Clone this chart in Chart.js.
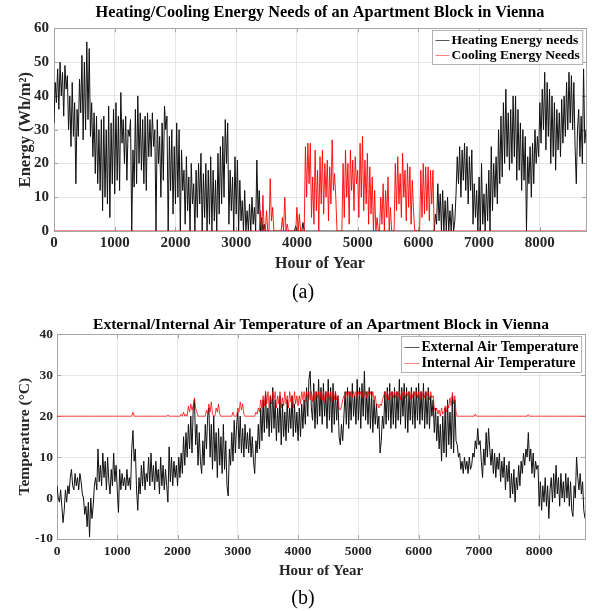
<!DOCTYPE html>
<html lang="en">
<head>
<meta charset="UTF-8">
<title>Heating/Cooling Energy Needs and Air Temperature - Vienna</title>
<script src="https://cdn.jsdelivr.net/npm/chart.js@4"></script>
<style>
  body { margin: 0; background: #fff; }
  .box { position: absolute; left: 0; width: 592px; }
  .tag { position: absolute; left: 0; width: 606px; text-align: center;
         font: 20px/24px "Liberation Serif", "Times New Roman", serif; color: #000; }
</style>
</head>
<body>
<div class="box" style="top:0;height:303px"><canvas id="chartA"></canvas></div>
<div class="tag" style="top:279px">(a)</div>
<div class="box" style="top:303px;height:308px"><canvas id="chartB"></canvas></div>
<div class="tag" style="top:585px">(b)</div>
<script>
// one sample every 20 hours, 0 .. 8760 (439 values)
const STEP = 20;
const X_TICKS = [0, 1000, 2000, 3000, 4000, 5000, 6000, 7000, 8000];

// (a) energy needs, Wh/m2
const heating = [
  32,44,38,48,36,50,40,47,34,49,42,46,30,40,25,44,28,38,14,36,
  28,45,35,52,27,50,30,56,33,54,28,38,22,35,17,34,14,30,12,33,
  6,34,10,30,8,37,4,32,14,36,11,38,15,34,12,41,26,33,20,34,
  15,30,28,33,0,24,13,36,14,40,20,35,18,33,14,34,12,35,22,33,
  22,35,25,30,0,33,20,28,10,32,15,37,30,34,0,28,12,30,5,25,
  8,32,10,30,0,24,12,18,2,22,6,16,0,20,8,14,0,18,4,20,
  8,23,0,17,4,20,0,18,2,22,0,18,3,15,0,23,5,25,8,28,
  10,33,20,32,2,18,6,16,0,22,5,21,0,15,3,9,0,12,0,6,
  0,8,0,10,2,7,0,21,5,12,0,4,0,2,0,0,0,0,0,0,
  0,0,0,0,0,0,0,0,0,0,0,0,0,0,0,0,0,0,0,1.5,
  0,0,0,0,0,2.5,0,0,0,0,0,0,0,0,0,0,0,0,0,0,
  0,0,0,0,0,0,0,0,0,0,0,0,0,0,0,0,0,0,0,0,
  0,0,0,0,0,0,0,0,0,0,0,0,0,0,0,0,0,0,0,0,
  0,0,0,0,0,0,0,0,0,0,0,0,0,0,0,0,0,0,0,0,
  0,0,0,0,0,0,0,0,0,0,0,0,0,0,0,0,0,0,0,0,
  0,0,0,0,0,0,0,0,0,0,0,0,0,0,5,2,14,3,11,0,
  12,0,9,0,10,0,6,0,8,0,3,11,22,14,25,10,24,15,26,12,
  25,8,22,12,24,2,14,4,12,0,16,0,20,2,11,0,14,3,18,0,
  25,6,20,10,22,8,30,14,34,16,38,20,42,22,35,18,36,20,40,22,
  40,15,36,18,32,12,30,15,28,0,22,14,25,10,26,14,30,20,28,22,
  38,26,42,30,47,24,44,28,42,20,40,22,38,18,36,24,35,22,39,26,
  40,28,44,30,47,32,46,30,44,25,14,30,36,22,34,20,48,26,30
];
const cooling = [
  0,0,0,0,0,0,0,0,0,0,0,0,0,0,0,0,0,0,0,0,
  0,0,0,0,0,0,0,0,0,0,0,0,0,0,0,0,0,0,0,0,
  0,0,0,0,0,0,0,0,0,0,0,0,0,0,0,0,0,0,0,0,
  0,0,0,0,0,0,0,0,0,0,0,0,0,0,0,0,0,0,0,0,
  0,0,0,0,0,0,0,0,0,0,0,0,0,0,0,0,0,0,0,0,
  0,0,0,0,0,0,0,0,0,0,0,0,0,0,0,0,0,0,0,0,
  0,0,0,0,0,0,0,0,0,0,0,0,0,0,0,0,0,0,0,0,
  0,0,0,0,0,0,0,0,0,0,0,0,0,0,0,0,0,0,0,0,
  0,0,0,0,0,0,0,0,0,0,6,0,10.6,0,0,6,0,0,15.5,3,
  7,0,0,0,0,0,0,0,4,0,10,0,2,0,0,0,0,0,0,0,
  7,0,5,0,0,0,0,25,10,26,14,26,4,16,2,24,6,18,0,22,
  8,24,5,20,10,21,3,19,8,27,12,17,10,0,0,0,0,0,20,4,
  24,10,20,2,24,12,21,6,22,14,18,4,26,10,28,6,21,8,23,2,
  19,5,16,0,12,0,4,0,0,10,2,14,0,12,4,16,0,7,0,0,
  0,20,6,22,8,17,4,23,10,18,3,20,7,19,2,15,6,0,0,0,
  0,0,18,4,20,5,19,6,19,3,18,8,18,0,0,0,0,0,0,0,
  0,0,0,0,0,0,0,0,0,0,0,0,0,0,0,0,0,0,0,0,
  0,0,0,0,0,0,0,0,0,0,0,0,0,0,0,0,0,0,0,0,
  0,0,0,0,0,0,0,0,0,0,0,0,0,0,0,0,0,0,0,0,
  0,0,0,0,0,0,0,0,0,0,0,0,0,0,0,0,0,0,0,0,
  0,0,0,0,0,0,0,0,0,0,0,0,0,0,0,0,0,0,0,0,
  0,0,0,0,0,0,0,0,0,0,0,0,0,0,0,0,0,0,0
];

// (b) air temperature, degC
const externalT = [
  3,0,-1,2,-2,-6,-3,2,-1,3,1,5,7,3,2,6,3,5,2,6,
  4,1,0,-4,-2,-7,-1,-9.5,0,-5,-2,3,5,2,12,4,8,3,11,5,
  9,2,10,4,1,7,3,11,4,8,2,-3.5,7,2,6,3,5,2,7,3,
  5,2,12,16.5,9,12,2,-3,5,1,8,3,9,2,6,4,10,3,11,4,
  8,2,9,4,7,1,10,3,8,2,7,3,-1,12.5,4,10,3,9,5,8,
  3,10,5,11,6,15,8,16,10,18,12,20,11,22,24,13,18,8,16,9,
  6,14,8,18,12,20,22,10,18,7,20,9,16,5,17,8,15,6,18,7,
  14,3,0.5,12,8,16,9,19,11,18,21,12,20,11,17,10,18,12,16,11,
  17,10,15,9,6,14,11,18,12,22,14,24,16,26,17,22,15,25,16,27,
  17,24,14,22,16,25,13,23,15,21,14,24,16,22,17,25,15,23,16,21,
  14,22,15,23,17,24,18,27,20,29,31,22,19,28,17,26,18,29,20,27,
  18,28,20,26,17,29,19,27,16,28,18,26,19,25,15,13,18,14,20,26,
  18,27,17,26,19,28,20,25,18,29,19,27,17,28,20,31,19,26,18,27,
  17,26,16,24,18,23,17,20,11,14,20,17,26,18,27,19,28,17,26,18,
  27,17,26,19,29,18,27,20,28,17,27,16,26,19,27,18,26,17,27,19,
  28,18,26,19,28,17,26,18,27,17,25,20,24,16,22,14,20,12,18,9,
  20,11,22,10,24,13,21,12,25,11,24,14,13,10,11,7,9,6,10,7,
  9,6,10,7,8,11,10,14,12,17,13,14,9,5,12,8,16,10,17,12,
  8,12,6,11,5,10,7,11,4,9,5,10,2,8,4,9,0,6,1,7,
  -1,5,2,8,3,9,6,11,8,12,10,16,9,12,6,11,5,9,7,8,
  -2,4,-3,3,-1,5,-2,3,-5,2,5,-1,6,0,8,1,5,-2,6,0,
  4,-1,6,0,5,-2,4,-3,-4.5,3,0,10,5,2,6,1,4,-3,-5
];
const internalT = [
  20,20,20,20,20,20,20,20,20,20,20,20,20,20,20,20,20,20,20,20,
  20,20,20,20,20,20,20,20,20,20,20,20,20,20,20,20,20,20,20,20,
  20,20,20,20,20,20,20,20,20,20,20,20,20,20,20,20,20,20,20,20,
  20,20,20,21,20,20,20,20,20,20,20,20,20,20,20,20,20,20,20,20,
  20,20,20,20,20,20,20,20,20,20,20,20,20.3,20,20,20,20,20,20,20,
  20,20,20,20.5,20,21,20,20.5,20,22.5,21,23,21.5,22.5,24.5,22,21,20,20,20,
  20,20,20,20,21.5,20.5,23,21,23.5,20.5,20,20,22,21,23,20.5,20,20,20,20,
  20,20,20,20,20,20,21,20,20,20,22,21,23.5,21.5,23,20.5,20,20,20,20,
  20,20,20,20,20,21,20.5,22,21,24,22,25,22.5,26,23,26,22,25,23,26,
  24,26,22,25,23,26,22,24.5,22.5,26,23,25,22,26,23.5,25,22,26,23,25,
  22.5,25,23,26,24,26,23.5,26,24.5,26,24,26,23.5,26,24,26,24.5,26,24,26,
  24,26,23.5,26,24.5,26,24,26,23.5,26,24,26,24,25,22,21.5,22.5,24,25,24.5,
  26,24.5,26,25,26,24.5,26,25,26,24.5,26,25,26,24.5,26,25,26,24.5,26,25,
  26,24.5,26,24,25,22.5,23,22,23,22.5,24,25,26,24.5,26,24,26,25,26,24.5,
  26,24.5,26,25,26,24,26,25,26,24.5,26,25,26,24,26,24.5,26,25,26,24.5,
  26,24,26,25,26,24.5,26,25,26,24,26,24.5,25,22,21,22,20.5,21.5,20,22,
  20.5,21,22.5,21,23,22,24.5,22.5,25.8,23,25,21,20,20,20,20,20,20,20,20,
  20,20,20,20,20,20,20,20.5,20,20,20,20,20,20,20,20,20,20,20,20,
  20,20,20,20,20,20,20,20,20,20,20,20,20,20,20,20,20,20,20,20,
  20,20,20,20,20,20,20,20,20,20,20,20.4,20,20,20,20,20,20,20,20,
  20,20,20,20,20,20,20,20,20,20,20,20,20,20,20,20,20,20,20,20,
  20,20,20,20,20,20,20,20,20,20,20,20,20,20,20,20,20,20,20
];

const SERIF = '"Liberation Serif", "Times New Roman", serif';

function pts(arr) {
  return arr.map((v, i) => ({ x: i * STEP, y: v }));
}

// box round the axes, small inward ticks (matlab style) and a legend inside the plot
const framePlugin = {
  id: 'frame',
  beforeDatasetsDraw(chart) {
    const { ctx, chartArea: a, scales } = chart;
    ctx.save();
    ctx.strokeStyle = '#a6a6a6';
    ctx.lineWidth = 1;
    ctx.strokeRect(Math.round(a.left) + 0.5, Math.round(a.top) + 0.5,
      Math.round(a.right - a.left), Math.round(a.bottom - a.top));
    ctx.beginPath();
    scales.x.ticks.forEach(t => {
      const px = Math.round(scales.x.getPixelForValue(t.value)) + 0.5;
      ctx.moveTo(px, a.top); ctx.lineTo(px, a.top + 4);
      ctx.moveTo(px, a.bottom); ctx.lineTo(px, a.bottom - 4);
    });
    scales.y.ticks.forEach(t => {
      const py = Math.round(scales.y.getPixelForValue(t.value)) + 0.5;
      ctx.moveTo(a.left, py); ctx.lineTo(a.left + 4, py);
      ctx.moveTo(a.right, py); ctx.lineTo(a.right - 4, py);
    });
    ctx.stroke();
    ctx.restore();
  },
  afterDraw(chart, args, opts) {
    const { ctx, chartArea: a } = chart;
    const sets = chart.data.datasets;
    ctx.save();
    ctx.font = 'bold ' + opts.size + 'px ' + SERIF;
    let tw = 0;
    sets.forEach(d => { tw = Math.max(tw, ctx.measureText(d.label).width); });
    const w = 3 + opts.line + 2 + tw + 3;
    const h = opts.rowH * sets.length + 4;
    const x0 = Math.round(a.right - 4 - w) + 0.5;
    const y0 = Math.round(a.top + 1.5) + 0.5;
    ctx.fillStyle = '#fff';
    ctx.fillRect(x0, y0, w, h);
    ctx.strokeStyle = '#b0b0b0';
    ctx.lineWidth = 1;
    ctx.strokeRect(x0, y0, w, h);
    sets.forEach((d, i) => {
      const cy = y0 + 2 + opts.rowH * (i + 0.5);
      ctx.strokeStyle = d.legendColor;
      ctx.beginPath();
      ctx.moveTo(x0 + 3, Math.round(cy) + 0.5);
      ctx.lineTo(x0 + 3 + opts.line, Math.round(cy) + 0.5);
      ctx.stroke();
      ctx.fillStyle = '#000';
      ctx.textBaseline = 'middle';
      ctx.fillText(d.label, x0 + 3 + opts.line + 2, cy + 0.5);
    });
    ctx.restore();
  }
};

function makeChart(id, c) {
  return new Chart(document.getElementById(id), {
    type: 'line',
    data: { datasets: c.datasets },
    plugins: [framePlugin],
    options: {
      responsive: true,
      maintainAspectRatio: false,
      animation: false,
      devicePixelRatio: 1,
      events: [],
      layout: { padding: { left: 0, right: c.padRight, top: 0, bottom: c.padBottom } },
      plugins: {
        legend: { display: false },
        tooltip: { enabled: false },
        title: {
          display: true, text: c.title, color: '#000', fullSize: false,
          font: { family: SERIF, size: c.titleSize, weight: 'bold' },
          padding: c.titlePad
        },
        frame: c.legend
      },
      scales: {
        x: {
          type: 'linear', min: 0, max: 8760,
          afterBuildTicks: s => { s.ticks = X_TICKS.map(v => ({ value: v })); },
          afterFit: s => { s.height = c.xHeight; },
          grid: { color: '#e6e6e6', drawTicks: false },
          border: { display: false },
          ticks: {
            autoSkip: false, maxRotation: 0, padding: c.xTickPad, color: '#262626',
            font: { family: SERIF, size: c.tickSize, weight: 'bold' },
            callback: v => String(v)
          },
          title: {
            display: true, text: 'Hour of Year', color: '#262626',
            font: { family: SERIF, size: c.xTitleSize, weight: 'bold' },
            padding: { top: 0, bottom: c.xTitlePad }
          }
        },
        y: {
          min: c.yMin, max: c.yMax,
          afterFit: s => { s.width = c.yWidth; },
          grid: { color: '#e6e6e6', drawTicks: false },
          border: { display: false },
          ticks: {
            stepSize: 10, padding: c.yTickPad, color: '#262626',
            font: { family: SERIF, size: c.tickSize, weight: 'bold' },
            callback: v => String(v)
          },
          title: {
            display: true, text: c.yTitle, color: '#262626',
            font: { family: SERIF, size: c.yTitleSize, weight: 'bold' },
            padding: { top: c.yTitlePad, bottom: 0 }
          }
        }
      }
    }
  });
}

makeChart('chartA', {
  title: 'Heating/Cooling Energy Needs of an Apartment Block in Vienna',
  titleSize: 16.3, titlePad: { top: 3.4, bottom: 5.4 },
  tickSize: 15, xTickPad: 3, xHeight: 48, xTitleSize: 16, xTitlePad: 6,
  yWidth: 54, yTickPad: 5, yTitle: 'Energy (Wh/m\u00B2)', yTitleSize: 16.5, yTitlePad: 16,
  yMin: 0, yMax: 60, padRight: 6, padBottom: 24,
  legend: { size: 13.5, line: 14, rowH: 15 },
  datasets: [
    { label: 'Heating Energy needs', data: pts(heating), borderColor: '#111', legendColor: '#555',
      borderWidth: 1, pointRadius: 0, tension: 0, order: 2 },
    { label: 'Cooling Energy Needs', data: pts(cooling), borderColor: '#ff0000', legendColor: '#ff8080',
      borderWidth: 0.9, pointRadius: 0, tension: 0, order: 1 }
  ]
});

makeChart('chartB', {
  title: 'External/Internal Air Temperature of an Apartment Block in Vienna',
  titleSize: 15.5, titlePad: { top: 12.7, bottom: 0 },
  tickSize: 13.5, xTickPad: 4, xHeight: 46, xTitleSize: 15, xTitlePad: 5,
  yWidth: 57, yTickPad: 4, yTitle: 'Temperature (\u00B0C)', yTitleSize: 15.5, yTitlePad: 16,
  yMin: -10, yMax: 40, padRight: 7, padBottom: 26,
  legend: { size: 14, line: 15, rowH: 16 },
  datasets: [
    { label: 'External Air Temperature', data: pts(externalT), borderColor: '#111', legendColor: '#555',
      borderWidth: 1, pointRadius: 0, tension: 0, order: 2 },
    { label: 'Internal Air Temperature', data: pts(internalT), borderColor: 'rgba(255,0,0,0.85)', legendColor: '#ff8080',
      borderWidth: 0.9, pointRadius: 0, tension: 0, order: 1 }
  ]
});
</script>
</body>
</html>
